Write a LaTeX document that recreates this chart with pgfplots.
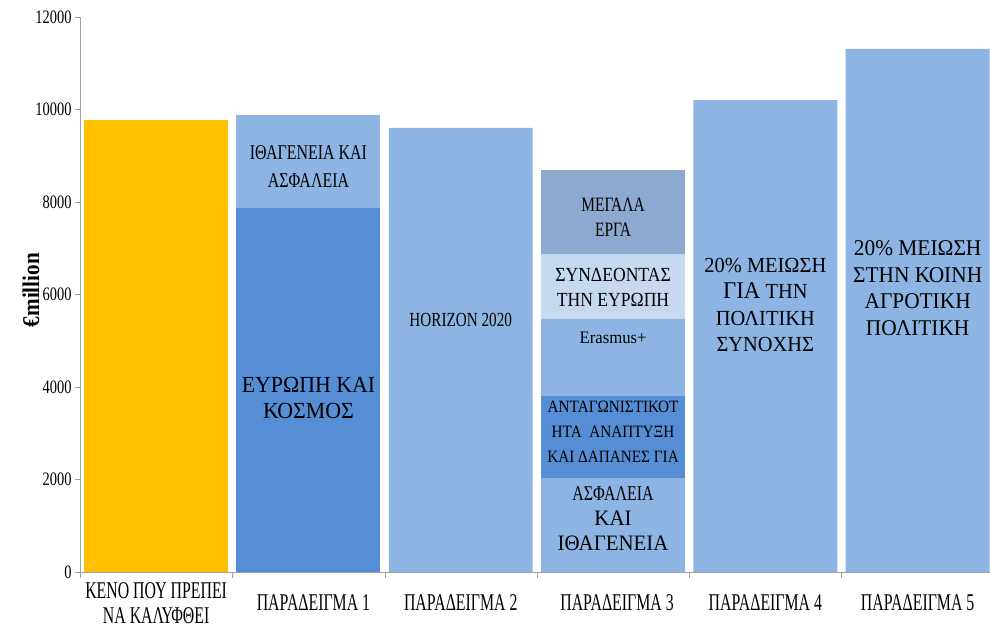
\documentclass[border=0pt]{standalone}
\usepackage{fontspec}
\setmainfont[FakeStretch=0.76]{Liberation Serif}
\newfontfamily\fB[FakeStretch=0.88]{Liberation Serif}
\newfontfamily\fC[FakeStretch=0.95]{Liberation Serif}
\newfontfamily\fX[FakeStretch=0.66]{Liberation Serif}
\usepackage{pgfplots}
\usepackage{pgfplotstable}
\pgfplotsset{compat=1.18}

\definecolor{cyellow}{HTML}{FFC000}
\definecolor{cdark}{HTML}{558ED5}
\definecolor{clight}{HTML}{8EB4E3}
\definecolor{cpale}{HTML}{C6D9F1}
\definecolor{cgray}{HTML}{8EA9CF}
\definecolor{caxis}{HTML}{A0A0A0}

\newcommand\fs[2]{\fontsize{#1bp}{#2bp}\selectfont}

% bottom to top; one column per coloured segment
\pgfplotstableread{
x yel dk li li2 dk2 era pale gry
0 9770 0 0 0 0 0 0 0
1 0 7870 0 2010 0 0 0 0
2 0 0 9600 0 0 0 0 0
3 0 0 2030 0 1775 1665 1405 1815
4 0 0 10205 0 0 0 0 0
5 0 0 11308 0 0 0 0 0
}\datatable

\begin{document}
\begin{tikzpicture}
\begin{axis}[
    at={(0,0)}, anchor=south west,
    scale only axis, width=910bp, height=555bp,
    xmin=-0.5, xmax=5.475, ymin=0, ymax=12000,
    ybar stacked, bar width=0.945,
    axis x line*=bottom, axis y line*=left,
    axis line style={draw=caxis, -},
    tick align=outside,
    xtick={0,...,5},
    major x tick style={draw=none},
    minor xtick={-0.5,0.5,1.5,2.5,3.5,4.5},
    minor x tick style={draw=caxis},
    minor tick length=6bp,
    ytick={0,2000,...,12000},
    y tick style={draw=caxis},
    major tick length=5bp,
    scaled y ticks=false,
    yticklabel style={/pgf/number format/fixed, /pgf/number format/1000 sep={},
        /pgf/number format/assume math mode=true, font=\fs{19}{20}},
    xticklabels={{ΚΕΝΟ ΠΟΥ ΠΡΕΠΕΙ\\ΝΑ ΚΑΛΥΦΘΕΙ},
        {\hspace*{10bp}ΠΑΡΑΔΕΙΓΜΑ 1},
        {ΠΑΡΑΔΕΙΓΜΑ 2},
        {\hspace*{8bp}ΠΑΡΑΔΕΙΓΜΑ 3},
        {ΠΑΡΑΔΕΙΓΜΑ 4},
        {\raisebox{-5bp}{ΠΑΡΑΔΕΙΓΜΑ 5}}},
    xticklabel style={align=center, anchor=center, yshift=-26bp, font=\fX\fs{24}{24.5}},
    ylabel={\bfseries €million},
    ylabel style={at={(axis description cs:-0.0538,0.508)}, anchor=center, font=\fB\fs{24}{25}},
    every axis plot/.append style={draw=none},
]
\addplot[fill=cyellow] table[x=x, y=yel] {\datatable};
\addplot[fill=cdark] table[x=x, y=dk] {\datatable};
\addplot[fill=clight] table[x=x, y=li] {\datatable};
\addplot[fill=clight] table[x=x, y=li2] {\datatable};
\addplot[fill=cdark] table[x=x, y=dk2] {\datatable};
\addplot[fill=clight] table[x=x, y=era] {\datatable};
\addplot[fill=cpale] table[x=x, y=pale] {\datatable};
\addplot[fill=cgray] table[x=x, y=gry] {\datatable};

\coordinate (t1a) at (axis cs:1,8757);
\coordinate (t1b) at (axis cs:1,3762);
\coordinate (t2) at (axis cs:2,5449);
\coordinate (t3a) at (axis cs:3,7676);
\coordinate (t3b) at (axis cs:3,6162);
\coordinate (t3c) at (axis cs:3,5059);
\coordinate (t3d) at (axis cs:3,3027);
\coordinate (t3e) at (axis cs:3,1146);
\coordinate (t4) at (axis cs:4,5773);
\coordinate (t5) at (axis cs:5,6140);
\end{axis}

% segment captions, drawn over the bars
\node[align=center, font=\fs{21}{28}] at (t1a) {ΙΘΑΓΕΝΕΙΑ ΚΑΙ\\ΑΣΦΑΛΕΙΑ};
\node[align=center, font=\fC\fs{23}{26}] at (t1b) {ΕΥΡΩΠΗ ΚΑΙ\\ΚΟΣΜΟΣ};
\node[align=center, font=\fs{20}{22}] at (t2) {HORIZON 2020};
\node[align=center, font=\fs{20.4}{25}] at (t3a) {ΜΕΓΑΛΑ\\ΕΡΓΑ};
\node[align=center, font=\fB\fs{20}{25}] at (t3b) {ΣΥΝΔΕΟΝΤΑΣ\\ΤΗΝ ΕΥΡΩΠΗ};
\node[align=center, font=\fC\fs{17.6}{20}] at (t3c) {Erasmus+};
\node[align=center, font=\fB\fs{17.3}{25}] at (t3d) {ΑΝΤΑΓΩΝΙΣΤΙΚΟΤ\\ΗΤΑ\ \ ΑΝΑΠΤΥΞΗ\\ΚΑΙ ΔΑΠΑΝΕΣ ΓΙΑ};
\node[align=center, font=\fs{21}{25}] at (t3e) {ΑΣΦΑΛΕΙΑ\\{\fC\fs{22}{25}ΚΑΙ}\\{\fC\fs{22}{25}ΙΘΑΓΕΝΕΙΑ}};
\node[align=center, font=\fC\fs{21.5}{26.3}] at (t4) {20\% ΜΕΙΩΣΗ\\{\fs{24}{26.3}ΓΙΑ} ΤΗΝ\\ΠΟΛΙΤΙΚΗ\\ΣΥΝΟΧΗΣ};
\node[align=center, font=\fC\fs{22.5}{26.7}] at (t5) {20\% ΜΕΙΩΣΗ\\ΣΤΗΝ ΚΟΙΝΗ\\ΑΓΡΟΤΙΚΗ\\ΠΟΛΙΤΙΚΗ};

\pgfresetboundingbox
\useasboundingbox (-80bp,-55bp) rectangle (910bp,572bp);
\end{tikzpicture}
\end{document}
